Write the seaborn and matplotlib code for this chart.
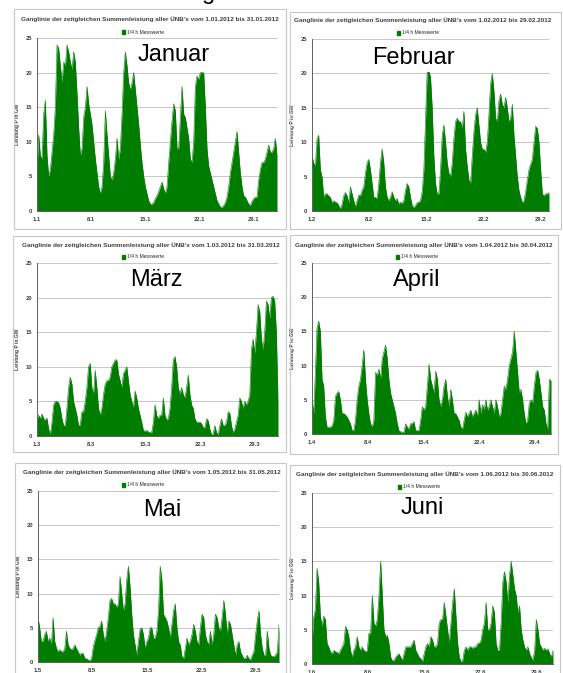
"""
Ganglinie der Windeinspeisung, Januar bis Juni 2012
(6 Excel-Diagramme nachgebaut)
"""

import numpy as np
import pandas as pd
import matplotlib
matplotlib.use('Agg')
import matplotlib.pyplot as plt
from matplotlib.patches import Rectangle, Patch
from matplotlib.ticker import MultipleLocator
import seaborn as sns

sns.set_style('white')
plt.rcParams['font.family'] = ['Liberation Sans', 'DejaVu Sans']

# ================================= #
# DATA: 1/4 h Messwerte, abgelesen (GW), gleichmaessig ueber den Monat
# ================================= #

jan_gw = [6, 11, 8, 7.5, 14, 16, 8, 5, 6, 8.5, 11, 15, 24, 23.5, 21, 18.5, 21.5, 21, 24, 23,
          21.5, 20.5, 23, 21.5, 17, 12, 8, 9, 13.5, 15, 18, 15.5, 14, 12.5, 10, 7.5, 5.5, 3.5,
          2.5, 3.5, 7, 14.5, 11, 8, 5, 4.5, 5.5, 7.5, 10.5, 7.5, 9, 14, 20, 23, 21, 18.5, 17.5,
          18.5, 20, 17.5, 15, 12.5, 9.5, 7, 5, 3.5, 2.5, 1.5, 1, 1, 1.2, 1.8, 2.2, 2.8, 3.5, 4.2,
          3.2, 2.5, 3.5, 7, 10, 13, 15.5, 14.5, 9, 9, 13.5, 18, 14, 13.5, 12, 10.5, 7.5, 7, 10,
          18, 19.5, 19, 20, 20, 20, 15, 9, 6.5, 5.5, 4.5, 3.5, 2.5, 1.5, 1, 0.6, 0.5, 0.8, 1.2,
          2, 3.5, 5.5, 7, 8.5, 10, 11.5, 8.5, 5.5, 3.5, 2.2, 2, 1.5, 1, 0.8, 1.4, 1.8, 2, 2, 4.5,
          6, 7, 7, 7.5, 8.5, 9.5, 8.5, 8.5, 9, 10.5, 8]

feb_gw = [8, 7, 6.5, 10.5, 11, 6, 5, 2, 2.5, 2.5, 2.2, 2, 1.2, 1.5, 1.3, 1.2, 0.8, 0.3, 1, 2.2,
          2.7, 2.2, 1.2, 3.5, 2.5, 1.5, 0.6, 1.5, 2.3, 2.2, 3, 3.5, 5.5, 7, 7.5, 6, 4, 2, 2, 1.8,
          4, 7, 9, 7, 3.5, 2, 1.5, 2, 2.8, 2, 1.5, 1.8, 1, 1.3, 1.1, 1.5, 3, 4, 3.5, 2, 0.8, 0.5,
          0.8, 1.2, 1.3, 1.5, 2.8, 6, 13, 20.3, 20.3, 19.5, 15, 8, 4, 2.5, 2.5, 6, 11, 12.5, 10,
          7, 5.5, 5, 7, 10.5, 13, 13.5, 13, 13, 12, 14.5, 9, 6.5, 4.5, 4, 8, 11.5, 14, 15, 12.5,
          10, 9, 9, 8.5, 10, 14, 18.5, 20, 17.5, 13.5, 13, 16, 17, 15.5, 15, 16.5, 15, 13, 13.5,
          15.5, 11, 8, 5, 3, 2, 1.2, 1.5, 2.8, 4.5, 6, 6.8, 7.5, 10, 12.3, 12, 10, 6, 2.5, 2.2,
          2.5, 2.5, 2.7]

mar_gw = [2.5, 3, 2.5, 3.2, 2.5, 2.3, 2.6, 1, 0.2, 2, 4.5, 5, 5, 4.8, 4, 2.5, 1.5, 1.5, 4, 7,
          8.5, 7.5, 5, 4, 3, 1.5, 1.6, 3.5, 3.5, 5, 7, 10, 10.5, 7, 6, 9.5, 7, 4, 3, 4, 6, 7.5,
          8, 8, 8.5, 10, 10.5, 11, 11, 9, 8, 7, 9, 9.5, 10, 8, 6, 5, 4, 6.5, 5.5, 4, 3, 2, 0.8,
          0.7, 0.8, 0.6, 0.5, 0.5, 2, 4.5, 3, 2.5, 3, 3, 5.5, 3, 2.3, 2.5, 4, 7, 11, 11.5, 10, 7,
          6, 7, 6, 5.5, 7, 8.8, 6, 4.5, 4, 2.5, 2, 2, 2, 1.8, 1.2, 1.2, 2.5, 2.2, 1, 0.2, 0.3,
          1.5, 0.5, 0.2, 1.5, 2.5, 1.5, 1.5, 2, 3.5, 3.3, 1.5, 0.5, 1, 2, 3, 5.5, 5, 4, 5, 4.5,
          5, 6, 12.5, 14, 12, 15, 19, 18, 14, 12.5, 15, 19.5, 19, 17, 20, 20.2, 19.5, 15, 5]

apr_gw = [5, 3, 9, 15.5, 16.5, 15, 8, 7, 2.5, 1, 1, 1, 1.2, 2, 5.5, 6, 6.2, 5, 3, 3, 2.8, 2.5,
          2, 1.5, 0.5, 0.5, 2, 5, 7, 8, 10, 12.3, 8, 5, 3, 1.5, 1, 2, 9, 8.5, 9.5, 8, 11, 12, 13,
          11, 8, 6, 5, 4, 3, 1.5, 0.5, 0.3, 0.3, 0.2, 1.5, 1, 0.7, 1.5, 1.5, 1.8, 0.5, 0.5, 0.5,
          2, 4, 3.5, 4, 7, 10.2, 8, 7, 6, 9.2, 8, 5, 4, 5, 7, 8, 5.5, 4, 6.5, 5, 3, 3, 2.5, 2, 1,
          0.7, 2, 3.2, 2.5, 3, 3.5, 2.5, 3, 3.5, 2.5, 5, 3, 4.3, 3.5, 5, 3.5, 4, 5, 4, 3, 5, 4,
          2.5, 3, 5, 7, 6.5, 8, 10, 11, 12, 15, 12, 9, 6, 6.5, 5, 3, 1.5, 2, 4.5, 5, 4.5, 7, 9,
          9.3, 8, 6, 4, 3.5, 1.5, 0.5, 8, 7.8]

mai_gw = [6.5, 5, 3, 3, 4, 4.5, 3, 3.5, 2.5, 6.5, 3, 2, 1.5, 1.8, 1.5, 1.5, 2, 4.5, 2.5, 2, 1.8,
          2, 2.5, 2, 1.5, 1, 1.3, 1.2, 0.5, 0.5, 0.3, 0.2, 0.5, 2.2, 3.2, 4, 5, 5.2, 6, 4, 3,
          4.5, 6.5, 9, 9.3, 8.5, 8.5, 8, 8.5, 12.5, 10, 7.5, 8.5, 12, 14, 11, 7, 4, 2.5, 1, 3,
          4.8, 5, 4, 2, 3, 3.5, 5, 5, 3.5, 3.5, 4.5, 7.5, 14, 12, 7, 6.5, 6, 5, 3.5, 5.5, 7.5,
          8.5, 5, 3, 2.5, 0.8, 0.5, 2, 3.5, 2.5, 3, 4, 5.5, 4.5, 3, 2.5, 5, 7, 6.5, 4, 3, 2.5,
          4.5, 2.5, 4, 7, 6.5, 5, 4.5, 6.5, 9, 7, 4, 6, 5.5, 4, 2.5, 1, 2.5, 3, 1.5, 1, 0.5, 0.5,
          1, 0.5, 0.3, 1, 1.5, 4, 6, 7.5, 4, 2, 1, 1, 4.5, 2, 1, 0.8, 0.8, 1, 1.5, 5.5]

jun_gw = [3, 6.8, 8, 14, 12, 7, 5.5, 7, 6.5, 3, 2.5, 1.8, 1.5, 2, 1.8, 1.7, 1.5, 2, 2.5, 3, 5.5,
          5, 4, 2, 1, 2, 2.5, 4, 2.5, 2, 2.5, 2, 1.8, 2, 4.5, 4.5, 10, 6, 5.5, 6.5, 10, 15, 10, 5,
          4, 4.2, 3, 1, 0.5, 0.5, 1, 1.3, 1.5, 1, 0.5, 1.5, 2.5, 2.5, 2.5, 2.5, 3, 3.5, 2, 1.5,
          1, 0.8, 0.3, 1.5, 2.5, 3, 2.5, 4, 3.5, 2.5, 2.5, 3, 6, 6.5, 6.5, 9, 7, 5, 3, 6, 9, 11,
          7, 3, 1, 0.3, 0.5, 2, 2.5, 2, 2.5, 2.5, 2.3, 2.5, 2.5, 3, 3, 3.5, 5, 6, 9, 5, 5, 6,
          8.5, 7.5, 3, 2, 2, 6, 12, 13.5, 12, 9, 13, 15, 13, 11, 10, 7.5, 8.5, 5, 3.5, 2.5, 2,
          2.5, 1.5, 1, 0.5, 2, 6.5, 5, 3, 2.5, 2, 2.3, 2, 2.2, 1.5, 1, 2]

month_names = ['Januar', 'Februar', 'März', 'April', 'Mai', 'Juni']
month_days = [31, 29, 31, 30, 31, 30]
month_series = [jan_gw, feb_gw, mar_gw, apr_gw, mai_gw, jun_gw]
tick_days = [1, 8, 15, 22, 29]
yticks = [0, 5, 10, 15, 20, 25]

# ================================= #
# LAYOUT (pixel, y von oben)
# ================================= #
W, H = 563, 673
GREEN = '#007d00'
TXT = '#404040'

frames = [(14, 9, 286, 229), (290, 12, 561, 229),
          (13, 236, 286, 452), (290, 235, 558, 454),
          (15, 463, 286, 700), (290, 465, 560, 700)]
axrects = [(37, 38, 277, 211), (312, 39, 549, 211),
           (37, 263, 278, 436), (312, 263, 551, 434),
           (38, 491, 279, 662), (312, 493, 553, 664)]
title_xy = [(150, 19), (423, 20), (151, 245), (424, 245), (152, 472), (425, 474)]
legend_xy = [(143, 32), (418, 33), (143, 257), (417, 257), (143, 485), (419, 487)]
label_xy = [(174, 55), (413, 58), (156, 280), (417, 280), (162, 510), (422, 508)]


def fx(x):
    return x / W


def fy(y):
    return 1 - y / H


fig = plt.figure(figsize=(W / 100, H / 100), dpi=100)
fig.patch.set_facecolor('white')

for i, name in enumerate(month_names):
    m = i + 1
    ndays = month_days[i]

    l, t, r, b = frames[i]
    fig.add_artist(Rectangle((fx(l), fy(b)), (r - l) / W, (b - t) / H,
                             transform=fig.transFigure, fill=False,
                             ec='#c8c8c8', lw=0.8))

    l, t, r, b = axrects[i]
    ax = fig.add_axes([fx(l), fy(b), (r - l) / W, (b - t) / H])
    ax.set_facecolor('none')

    gw = month_series[i]
    df = pd.DataFrame({'Tag': np.linspace(1, ndays + 1, len(gw)),
                       'Leistung': gw})
    ax.fill_between(df['Tag'], 0, df['Leistung'], color=GREEN, lw=0, zorder=2)
    sns.lineplot(data=df, x='Tag', y='Leistung', ax=ax, color=GREEN,
                 lw=0.4, zorder=3)

    ax.set_xlim(1, ndays + 1)
    ax.set_ylim(0, 25)
    ax.set_yticks(yticks)
    ax.set_yticklabels([str(v) for v in yticks])
    ax.set_xticks(tick_days)
    ax.set_xticklabels(['%d.%d' % (d, m) for d in tick_days])
    ax.xaxis.set_minor_locator(MultipleLocator(1))
    ax.yaxis.grid(True, color='#bdbdbd', lw=0.6)
    ax.set_axisbelow(True)
    for s in ['top', 'right']:
        ax.spines[s].set_visible(False)
    for s in ['left', 'bottom']:
        ax.spines[s].set_color('#606060')
        ax.spines[s].set_linewidth(0.7)
        ax.spines[s].set_zorder(4)
    ax.tick_params(axis='both', which='both', direction='out', length=2,
                   width=0.5, color='#606060', labelsize=4.2, labelcolor=TXT, pad=1.5)
    ax.tick_params(axis='x', which='major', pad=2)
    for lab in ax.get_xticklabels() + ax.get_yticklabels():
        lab.set_fontweight('bold')

    ax.set_xlabel('')
    ax.set_ylabel('Leistung P in GW', fontsize=3.6, fontweight='bold', color=TXT)
    ax.yaxis.set_label_coords(-17 / (r - l), 0.5)

    # legend
    lx, ly = legend_xy[i]
    ax.legend(handles=[Patch(color=GREEN, label='1/4 h Messwerte')],
              loc='center', bbox_to_anchor=(fx(lx), fy(ly)),
              bbox_transform=fig.transFigure, frameon=False,
              prop={'size': 3.6}, handlelength=0.7, handleheight=0.7,
              handletextpad=0.4, borderpad=0, borderaxespad=0)

    # title
    tx, ty = title_xy[i]
    last = '%d.%02d.2012' % (ndays, m)
    fig.text(fx(tx), fy(ty),
             'Ganglinie der zeitgleichen Summenleistung aller ÜNB’s vom 1.%02d.2012 bis %s' % (m, last),
             ha='center', va='center', fontsize=4.6, fontweight='bold', color=TXT)

    # month label
    mx, my = label_xy[i]
    fig.text(fx(mx), fy(my), name, ha='center', va='center', fontsize=17,
             color='black', zorder=5,
             bbox=dict(facecolor='white', edgecolor='none', pad=2))

# remains of a heading cut at the top edge
fig.text(fx(209), fy(-0.5), 'g', ha='center', va='baseline', fontsize=17, color='black')

fig.savefig('out.png', dpi=100, facecolor='white')
